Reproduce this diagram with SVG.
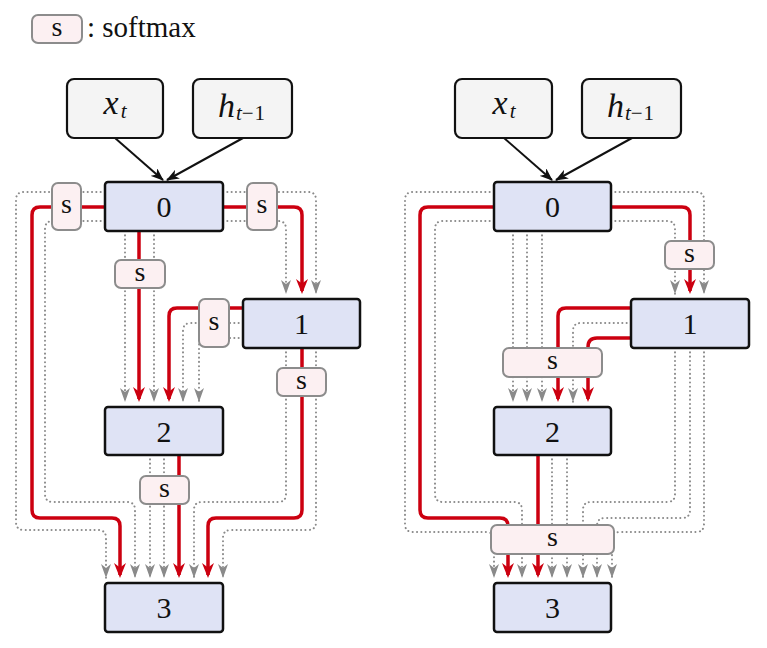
<svg xmlns="http://www.w3.org/2000/svg" width="767" height="648" viewBox="0 0 767 648">
<style>
.node rect{fill:#dfe3f5;stroke:#111;stroke-width:2.5}
.inp rect{fill:#f4f4f4;stroke:#111;stroke-width:2.2}
.sm rect{fill:#fcf0f2;stroke:#8c8c8c;stroke-width:2}
.num{font-family:"Liberation Serif",serif;font-size:30px;text-anchor:middle;fill:#111}
.st{font-family:"Liberation Serif",serif;font-size:28px;text-anchor:middle;fill:#111}
.math{font-family:"Liberation Serif",serif;font-size:34px;font-style:italic;text-anchor:middle;fill:#111}
.sub{font-size:21px}
.red{fill:none;stroke:#cc0010;stroke-width:3.5}
.dot{fill:none;stroke:#8a8a8a;stroke-width:2;stroke-dasharray:0.1 4.2;stroke-linecap:round}
.blk{fill:none;stroke:#111;stroke-width:2}
</style>
<defs>
<marker id="ag" markerUnits="userSpaceOnUse" markerWidth="14" markerHeight="10" viewBox="0 0 14 10" refX="14" refY="5" orient="auto"><path d="M0,0 L14,5 L0,10 L4,5 Z" fill="#8a8a8a"/></marker>
<marker id="ar" markerUnits="userSpaceOnUse" markerWidth="15" markerHeight="12" viewBox="0 0 15 12" refX="12" refY="6" orient="auto"><path d="M0,0 L15,6 L0,12 L4.5,6 Z" fill="#cc0010"/></marker>
<marker id="ab" markerUnits="userSpaceOnUse" markerWidth="13" markerHeight="10" viewBox="0 0 13 10" refX="12" refY="5" orient="auto"><path d="M0,0 L13,5 L0,10 L3.5,5 Z" fill="#111"/></marker>
</defs>
<rect width="767" height="648" fill="#fff"/>

<g id="legend">
<g class="sm"><rect x="32" y="15" width="50" height="28" rx="6"/></g>
<text class="st" x="57" y="36">s</text>
<text x="87" y="37" font-family="Liberation Serif,serif" font-size="29" fill="#111">: softmax</text>
</g>

<g id="connectors">
<path class="blk" d="M115,138 L163,180" marker-end="url(#ab)"/>
<path class="blk" d="M243,138 L167,180" marker-end="url(#ab)"/>
<path class="dot" d="M105,192 L24,192 Q16,192 16,200 L16,522 Q16,530 24,530 L98,530 Q106,530 106,538 L106,578" marker-end="url(#ag)"/>
<path class="red" d="M105,207 L40,207 Q32,207 32,215 L32,510 Q32,518 40,518 L112,518 Q120,518 120,526 L120,575" marker-end="url(#ar)"/>
<path class="dot" d="M105,221 L53,221 Q45,221 45,229 L45,494 Q45,502 53,502 L127,502 Q135,502 135,510 L135,578" marker-end="url(#ag)"/>
<path class="dot" d="M223,192 L308,192 Q316,192 316,200 L316,294" marker-end="url(#ag)"/>
<path class="red" d="M223,207 L294,207 Q302,207 302,215 L302,291" marker-end="url(#ar)"/>
<path class="dot" d="M223,221 L278,221 Q286,221 286,229 L286,294" marker-end="url(#ag)"/>
<path class="dot" d="M125,231 L125,402" marker-end="url(#ag)"/>
<path class="red" d="M139,231 L139,399" marker-end="url(#ar)"/>
<path class="dot" d="M154,231 L154,402" marker-end="url(#ag)"/>
<path class="red" d="M243,308 L177,308 Q169,308 169,316 L169,399" marker-end="url(#ar)"/>
<path class="dot" d="M243,323 L191,323 Q183,323 183,331 L183,402" marker-end="url(#ag)"/>
<path class="dot" d="M243,338 L207,338 Q199,338 199,346 L199,402" marker-end="url(#ag)"/>
<path class="dot" d="M286,348 L286,494 Q286,502 278,502 L202,502 Q194,502 194,510 L194,578" marker-end="url(#ag)"/>
<path class="red" d="M302,348 L302,510 Q302,518 294,518 L216,518 Q208,518 208,526 L208,575" marker-end="url(#ar)"/>
<path class="dot" d="M316,348 L316,522 Q316,530 308,530 L231,530 Q223,530 223,538 L223,578" marker-end="url(#ag)"/>
<path class="dot" d="M150,455 L150,578" marker-end="url(#ag)"/>
<path class="dot" d="M164,455 L164,578" marker-end="url(#ag)"/>
<path class="red" d="M179,455 L179,575" marker-end="url(#ar)"/>

<path class="blk" d="M504,138 L552,180" marker-end="url(#ab)"/>
<path class="blk" d="M632,138 L556,180" marker-end="url(#ab)"/>
<path class="dot" d="M494,192 L413,192 Q405,192 405,200 L405,524 Q405,532 413,532 L486,532 Q494,532 494,540 L494,578" marker-end="url(#ag)"/>
<path class="red" d="M494,207 L428,207 Q420,207 420,215 L420,510 Q420,518 428,518 L500,518 Q508,518 508,526 L508,575" marker-end="url(#ar)"/>
<path class="dot" d="M494,221 L443,221 Q435,221 435,229 L435,494 Q435,502 443,502 L514,502 Q522,502 522,510 L522,578" marker-end="url(#ag)"/>
<path class="dot" d="M611,192 L696,192 Q704,192 704,200 L704,294" marker-end="url(#ag)"/>
<path class="red" d="M611,207 L682,207 Q690,207 690,215 L690,291" marker-end="url(#ar)"/>
<path class="dot" d="M611,221 L667,221 Q675,221 675,229 L675,294" marker-end="url(#ag)"/>
<path class="dot" d="M513,231 L513,402" marker-end="url(#ag)"/>
<path class="dot" d="M527,231 L527,402" marker-end="url(#ag)"/>
<path class="dot" d="M542,231 L542,402" marker-end="url(#ag)"/>
<path class="red" d="M631,308 L566,308 Q558,308 558,316 L558,399" marker-end="url(#ar)"/>
<path class="dot" d="M631,323 L581,323 Q573,323 573,331 L573,402" marker-end="url(#ag)"/>
<path class="red" d="M631,338 L597,338 Q588,338 588,347 L588,399" marker-end="url(#ar)"/>
<path class="dot" d="M675,348 L675,494 Q675,502 667,502 L591,502 Q583,502 583,510 L583,578" marker-end="url(#ag)"/>
<path class="dot" d="M690,348 L690,510 Q690,518 682,518 L605,518 Q597,518 597,526 L597,578" marker-end="url(#ag)"/>
<path class="dot" d="M704,348 L704,524 Q704,532 696,532 L620,532 Q612,532 612,540 L612,578" marker-end="url(#ag)"/>
<path class="red" d="M538,455 L538,575" marker-end="url(#ar)"/>
<path class="dot" d="M552,455 L552,578" marker-end="url(#ag)"/>
<path class="dot" d="M567,455 L567,578" marker-end="url(#ag)"/>
</g>

<g id="L-x" class="inp"><rect x="67" y="79" width="96" height="59" rx="7"/><text class="math" x="115" y="114">x<tspan class="sub" dx="2" dy="4">t</tspan></text></g>
<g id="L-h" class="inp"><rect x="193" y="79" width="99" height="59" rx="7"/><text class="math" x="242" y="117">h<tspan class="sub" dx="1" dy="3">t</tspan><tspan class="sub" font-style="normal" letter-spacing="1">−1</tspan></text></g>
<g id="L-0" class="node"><rect x="105" y="182" width="118" height="49" rx="3"/><text class="num" x="164" y="217">0</text></g>
<g id="L-1" class="node"><rect x="243" y="299" width="117" height="49" rx="3"/><text class="num" x="301.5" y="334">1</text></g>
<g id="L-2" class="node"><rect x="105" y="407" width="118" height="48" rx="3"/><text class="num" x="164" y="441.5">2</text></g>
<g id="L-3" class="node"><rect x="105" y="583" width="118" height="49" rx="3"/><text class="num" x="164" y="618">3</text></g>
<g id="L-s0l" class="sm"><rect x="52" y="183" width="29" height="47" rx="6"/><text class="st" x="66.5" y="213">s</text></g>
<g id="L-s0r" class="sm"><rect x="247" y="183" width="30" height="47" rx="6"/><text class="st" x="262" y="213">s</text></g>
<g id="L-s0b" class="sm"><rect x="115" y="260" width="50" height="28" rx="6"/><text class="st" x="140" y="281">s</text></g>
<g id="L-s1l" class="sm"><rect x="199" y="299" width="30" height="48" rx="6"/><text class="st" x="214" y="330">s</text></g>
<g id="L-s1b" class="sm"><rect x="277" y="368" width="49" height="28" rx="6"/><text class="st" x="301.5" y="389">s</text></g>
<g id="L-s2b" class="sm"><rect x="140" y="476" width="49" height="28" rx="6"/><text class="st" x="164.5" y="497">s</text></g>

<g id="R-x" class="inp"><rect x="455" y="79" width="97" height="59" rx="7"/><text class="math" x="504" y="114">x<tspan class="sub" dx="2" dy="4">t</tspan></text></g>
<g id="R-h" class="inp"><rect x="582" y="79" width="99" height="59" rx="7"/><text class="math" x="631" y="117">h<tspan class="sub" dx="1" dy="3">t</tspan><tspan class="sub" font-style="normal" letter-spacing="1">−1</tspan></text></g>
<g id="R-0" class="node"><rect x="494" y="182" width="117" height="49" rx="3"/><text class="num" x="552.5" y="217">0</text></g>
<g id="R-1" class="node"><rect x="631" y="299" width="118" height="49" rx="3"/><text class="num" x="690" y="334">1</text></g>
<g id="R-2" class="node"><rect x="494" y="407" width="117" height="48" rx="3"/><text class="num" x="552.5" y="441.5">2</text></g>
<g id="R-3" class="node"><rect x="494" y="583" width="117" height="49" rx="3"/><text class="num" x="552.5" y="618">3</text></g>
<g id="R-s1" class="sm"><rect x="665" y="241" width="49" height="28" rx="6"/><text class="st" x="689.5" y="262">s</text></g>
<g id="R-s2" class="sm"><rect x="503" y="348" width="99" height="29" rx="6"/><text class="st" x="552.5" y="369">s</text></g>
<g id="R-s3" class="sm"><rect x="491" y="525" width="123" height="29" rx="6"/><text class="st" x="552.5" y="546">s</text></g>
</svg>
